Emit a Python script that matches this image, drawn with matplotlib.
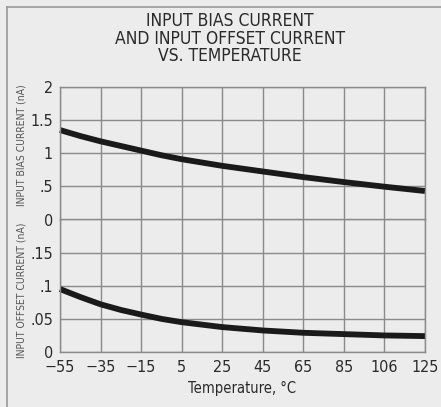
import matplotlib
matplotlib.use("Agg")
import matplotlib.pyplot as plt
from matplotlib.lines import Line2D
from matplotlib import font_manager

temps = [-55, -45, -35, -25, -15, -5, 5, 25, 45, 65, 85, 105, 125]
bias_na = [1.35, 1.26, 1.18, 1.11, 1.04, 0.97, 0.91, 0.81, 0.725, 0.64, 0.565, 0.495, 0.43]
offset_na = [0.095, 0.083, 0.072, 0.0635, 0.0565, 0.05, 0.045, 0.0376, 0.0325, 0.029, 0.027, 0.025, 0.024]

x_ticks = [-55, -35, -15, 5, 25, 45, 65, 85, 105, 125]
x_labels = ["\u221255", "\u221235", "\u221215", "5", "25", "45", "65", "85", "106", "125"]
bias_ticks = [0.5, 1, 1.5, 2]
bias_labels = [".5", "1", "1.5", "2"]
off_ticks = [0, 0.05, 0.1, 0.15, 0.2]
off_labels = ["0", ".05", ".1", ".15", "0"]

names = {f.name for f in font_manager.fontManager.ttflist}
fam = ["Liberation Sans Narrow"] if "Liberation Sans Narrow" in names else []
plt.rcParams['font.family'] = fam + ["DejaVu Sans"]
plt.rcParams['font.stretch'] = 'condensed'
TXT = "#2a2a2a"
GRID = "#8a8a8a"
BG = "#ececec"

fig = plt.figure(figsize=(4.41, 4.07), dpi=100, facecolor=BG)
L, R, B, T = 60/441, 425/441, 1-352/407, 1-87/407
H = (T - B) / 2
ax1 = fig.add_axes([L, B + H, R - L, H], facecolor=BG)
ax2 = fig.add_axes([L, B, R - L, H])
ax2.patch.set_alpha(0)

for ax in (ax1, ax2):
    ax.set_xlim(-55, 125)
    ax.set_xticks(x_ticks)
    ax.grid(True, color=GRID, linewidth=1.0)
    ax.tick_params(length=0, colors=TXT, labelsize=11.5)
    ax.tick_params(axis='y', pad=5)
    ax.tick_params(axis='x', pad=6)
    for s in ax.spines.values():
        s.set_color(GRID)
        s.set_linewidth(1.0)

ax1.set_ylim(0, 2)
ax1.set_yticks(bias_ticks)
ax1.set_yticklabels(bias_labels)
ax1.set_xticklabels([])
ax1.spines['bottom'].set_visible(False)
ax1.plot(temps, bias_na, color="#1a1a1a", linewidth=4.2, solid_capstyle='butt', clip_on=False)

ax2.set_ylim(0, 0.2)
ax2.set_yticks(off_ticks)
ax2.set_yticklabels(off_labels)
ax2.set_xticklabels(x_labels)
ax2.plot(temps, offset_na, color="#1a1a1a", linewidth=4.2, solid_capstyle='butt', clip_on=False)

ax2.set_xlabel("Temperature, \u00b0C", fontsize=10.5, color=TXT, labelpad=4)

for i, line in enumerate(["INPUT BIAS CURRENT", "AND INPUT OFFSET CURRENT", "VS. TEMPERATURE"]):
    fig.text(0.522, 1-(21+17.5*i)/407, line, ha='center', va='center', fontsize=12.5, color=TXT)

fig.text(22/441, 1-145/407, "INPUT BIAS CURRENT (nA)", rotation=90, ha='center', va='center', fontsize=7.5, color="#555555")
fig.text(22/441, 1-290/407, "INPUT OFFSET CURRENT (nA)", rotation=90, ha='center', va='center', fontsize=7.5, color="#555555")

fig.add_artist(Line2D([7/441, 1], [1-7/407, 1-7/407], transform=fig.transFigure, color="#9a9a9a", linewidth=1.2))
fig.add_artist(Line2D([7/441, 7/441], [0, 1-7/407], transform=fig.transFigure, color="#9a9a9a", linewidth=1.2))

fig.savefig("out.png", dpi=100, facecolor=BG)
